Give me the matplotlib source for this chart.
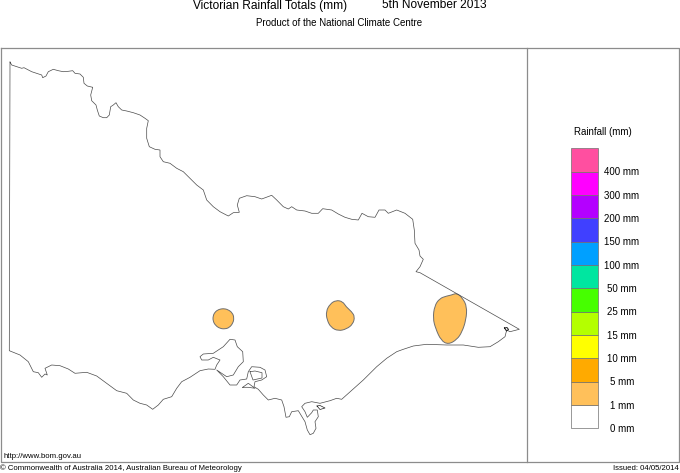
import matplotlib
matplotlib.use('Agg')
import matplotlib.pyplot as plt
from matplotlib.path import Path
from matplotlib.patches import PathPatch

plt.rcParams['font.family'] = ['Liberation Sans', 'DejaVu Sans']

# state outline
outline_x = [10, 11.7, 16.7, 21.7, 24, 28.3, 31.7, 36.7, 41.7, 42.7, 46, 48.3, 53.3, 58.3, 63.3, 68.3, 72.7, 75, 80,
             83.3, 84, 87.3, 92.7, 90.7, 91.7, 96, 97.3, 99.3, 103.3, 106.7, 109.3, 110.7, 113.3, 116, 118.3, 121.7,
             126.7, 133.3, 140, 145, 148.3, 146.7, 146.7, 149.3, 155, 160, 160, 163.3, 170, 176.7, 183.3, 190, 196.7,
             203.3, 206.7, 213.3, 220, 228.3, 233.3, 239.3, 237.3, 239.3, 246.7, 255, 261.7, 271.7, 276.7, 283.3,
             288.3, 291.7, 296.7, 305, 311.7, 318.3, 322.7, 331.7, 338.3, 345, 351.7, 358.3, 362, 368.3, 375, 379,
             385, 388.3, 396.7, 405, 412.7, 414.3, 415, 419, 420, 423.3, 420, 416, 420, 519.3, 510, 506.7, 505, 498.3,
             490, 478.3, 463.3, 446.7, 426.7, 413.3, 403.3, 396.7, 386.7, 376.7, 363.3, 341.7, 336.7, 330, 320, 311.7,
             305, 301.7, 305, 307.3, 311.7, 313.3, 317.3, 318.3, 315, 316, 313.3, 310, 307.3, 305, 298.3, 291.7, 289.3,
             286, 284, 281.7, 275, 268.3, 263.3, 258.3, 254, 255, 261.7, 266.7, 265, 260, 251.7, 248.3, 246.7, 240,
             236.7, 230, 223.3, 216.7, 226.7, 233.3, 238.3, 243.3, 242.7, 237.3, 235, 230, 223.3, 213.3, 203.3, 200,
             201.7, 208.3, 213.3, 220, 216.7, 215, 208.3, 200, 190, 181.7, 176.7, 171.7, 163.3, 158.3, 152.7, 146.7,
             140, 133.3, 126.7, 116.7, 106.7, 96.7, 86.7, 75, 68.3, 60, 51.7, 45, 47.3, 45, 41.7, 38.3, 33.3, 28.3, 20,
             9.3, 10]
outline_y = [62, 65, 66.7, 68.3, 67.7, 70, 71.7, 73.3, 75, 77.7, 76, 71.7, 69.3, 70.7, 71.7, 71.3, 70.7, 73.3, 74,
             77.3, 83.3, 86, 87.3, 95, 100.7, 105, 110, 116, 117.7, 117.7, 115, 106.7, 105, 102.7, 106.7, 110,
             111, 112.7, 115, 118.3, 120.7, 128.3, 138.3, 146.7, 149.3, 150, 156.7, 161.7, 163.3, 168.3, 171.7, 178.3,
             185, 190, 200, 206.7, 211.7, 216, 212.7, 212.3, 205, 198.3, 195.7, 196.7, 199, 195.3, 200, 206.7,
             209, 206.7, 210, 211, 213.3, 213.3, 208.7, 210, 214, 217.3, 219.3, 220, 213.3, 216.7, 217.3, 210,
             210, 213.3, 210, 213.3, 219.3, 230, 243.3, 250, 256, 259.3, 266.7, 271.7, 272.7, 329.3, 331.7, 330,
             336.7, 341.7, 346.7, 347.3, 345, 345, 344.3, 346, 349.3, 351.7, 358.3, 366.7, 380, 399.3, 398.3, 400.7,
             403.3, 401.7, 403.3, 406.7, 411.7, 417.3, 412.7, 410, 410, 416.7, 421.7, 428.3, 433.3, 434.7, 430, 421.7,
             410.7, 411.7, 416.7, 417.3, 406.7, 400, 398.3, 400, 395, 389.3, 386.7, 381.7, 380, 376.7, 370, 367.3,
             366.7, 371.7, 379, 380, 385, 385, 376.7, 370, 376.7, 375, 366.7, 361.7, 351.7, 346.7, 340, 339.3, 346.7,
             353.3, 354, 356.7, 360, 360, 357.3, 360, 365, 369.3, 369, 370.7, 377.3, 381.7, 388.3, 396.7, 399.3, 405,
             409.3, 405, 403.3, 400, 393.3, 390.7, 383.3, 376, 372.3, 373.3, 369, 365.7, 365, 368.3, 375, 374, 377.3,
             372.7, 371.7, 361.7, 355, 350.7, 62]

# islands
french_x = [250, 255, 262, 262, 253, 250]
french_y = [371.7, 371, 372.7, 378, 380, 371.7]
phillip_x = [242.7, 248.3, 255, 248.3, 242.7]
phillip_y = [387.3, 383.3, 388.3, 387.3, 387.3]
gabo_x = [504.5, 507, 508.5, 506.5, 504.5]
gabo_y = [328, 327.5, 329.5, 331, 328]
snake_x = [317, 320, 325, 320, 317]
snake_y = [406, 405.5, 408, 409.5, 406]

# 1-5 mm rain areas
west_x = [223, 228, 232.5, 234, 233, 229.5, 225, 220, 215.5, 213, 213, 215, 218.5]
west_y = [308.5, 309.5, 313, 318, 323, 327.5, 329, 328.5, 325.5, 321, 316, 312, 309.5]
mid_x = [330, 336, 342.7, 346, 351.7, 354.8, 353, 346.7, 338.3, 331, 327, 326]
mid_y = [304, 300.2, 301.5, 306.7, 311.7, 316.7, 324, 329, 331, 327.5, 320, 311.5]
east_x = [456.7, 462.5, 467, 466, 462, 457, 448.3, 441, 435.5, 433, 434.5, 439.5, 446.7, 451.7]
east_y = [293, 298, 306.7, 320, 332, 339.5, 344.5, 340.5, 328.3, 318.3, 306, 298.5, 296, 295]

# legend, bottom to top
legend_colors = ['#ffffff', '#ffc05a', '#ffaa00', '#ffff00', '#b4ff00', '#46ff00',
                 '#00e6a0', '#00a0ff', '#4040ff', '#b400ff', '#ff00ff', '#ff4fa0']
legend_labels = ['0 mm', '1 mm', '5 mm', '10 mm', '15 mm', '25 mm', '50 mm',
                 '100 mm', '150 mm', '200 mm', '300 mm', '400 mm']


def rounded_patch(xs, ys):
    # closed quadratic curve through the midpoints, keeps the blobs smooth
    n = len(xs)
    verts = [((xs[-1] + xs[0]) / 2, (ys[-1] + ys[0]) / 2)]
    codes = [Path.MOVETO]
    for i in range(n):
        j = (i + 1) % n
        verts += [(xs[i], ys[i]), ((xs[i] + xs[j]) / 2, (ys[i] + ys[j]) / 2)]
        codes += [Path.CURVE3, Path.CURVE3]
    return PathPatch(Path(verts, codes), facecolor='#ffc05a', edgecolor='#6e6e6e', lw=0.7)


fig = plt.figure(figsize=(6.8, 4.73), dpi=100)
ax = fig.add_axes([0, 0, 1, 1])
ax.set_xlim(0, 680)
ax.set_ylim(473, 0)
ax.axis('off')

# frame
frame = '#8c8c8c'
ax.plot([0.5, 679, 679, 0.5, 0.5], [48.5, 48.5, 461.5, 461.5, 48.5], color=frame, lw=0.9)
ax.plot([526.5, 526.5], [48.5, 461.5], color=frame, lw=0.9)

for x, y in [(west_x, west_y), (mid_x, mid_y), (east_x, east_y)]:
    ax.add_patch(rounded_patch(x, y))

line = '#4a4a4a'
ax.plot(outline_x, outline_y, color=line, lw=0.5)
ax.plot(french_x, french_y, color=line, lw=0.5)
ax.plot(phillip_x, phillip_y, color=line, lw=0.5)
ax.plot(gabo_x, gabo_y, color='#202020', lw=0.7)
ax.plot(snake_x, snake_y, color='#202020', lw=0.5)

# colour key
box_h = 23.33
for i, c in enumerate(legend_colors):
    ax.bar(584.5, box_h, width=27, bottom=428.3 - (i + 1) * box_h, color=c, edgecolor='#707070', lw=0.5)
for i, lab in enumerate(legend_labels):
    ax.text(621.7, 429 - i * box_h, lab, ha='center', va='center', fontsize=7)
ax.text(603, 131.5, 'Rainfall (mm)', ha='center', va='center', fontsize=7)

ax.text(270.5, 8.5, 'Victorian Rainfall Totals (mm)', ha='center', va='baseline', fontsize=8.6)
ax.text(434.5, 8.5, '5th November 2013', ha='center', va='baseline', fontsize=8.6)
ax.text(339.5, 25.5, 'Product of the National Climate Centre', ha='center', va='baseline', fontsize=7)

ax.text(4, 458, 'http://www.bom.gov.au', ha='left', va='baseline', fontsize=5.6)
ax.text(0, 470, '© Commonwealth of Australia 2014, Australian Bureau of Meteorology',
        ha='left', va='baseline', fontsize=5.6)
ax.text(679, 470, 'Issued: 04/05/2014', ha='right', va='baseline', fontsize=5.6)

fig.savefig('out.png', dpi=100)
